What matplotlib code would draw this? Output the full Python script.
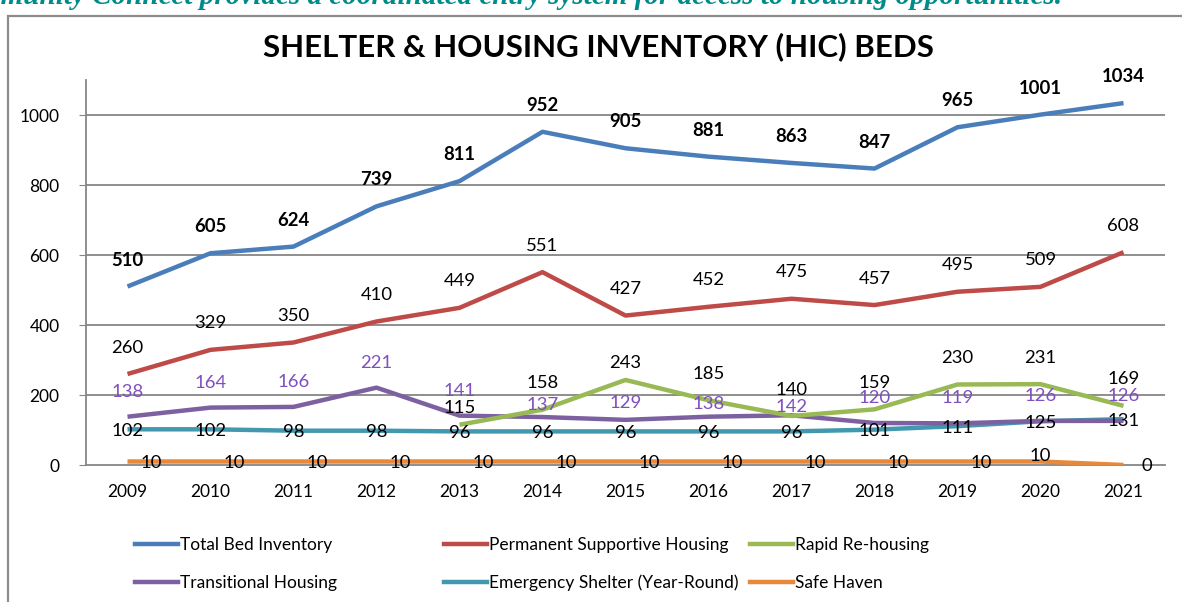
import matplotlib
matplotlib.use("Agg")
import matplotlib.pyplot as plt
from matplotlib.patches import Rectangle
from matplotlib.lines import Line2D

plt.rcParams['font.family'] = ['Lato', 'DejaVu Sans']

years = [2009, 2010, 2011, 2012, 2013, 2014, 2015, 2016, 2017, 2018, 2019, 2020, 2021]
total_beds = [510, 605, 624, 739, 811, 952, 905, 881, 863, 847, 965, 1001, 1034]
permanent_supportive = [260, 329, 350, 410, 449, 551, 427, 452, 475, 457, 495, 509, 608]
rapid_rehousing_years = [2013, 2014, 2015, 2016, 2017, 2018, 2019, 2020, 2021]
rapid_rehousing = [115, 158, 243, 185, 140, 159, 230, 231, 169]
transitional = [138, 164, 166, 221, 141, 137, 129, 138, 142, 120, 119, 126, 126]
emergency_shelter = [102, 102, 98, 98, 96, 96, 96, 96, 96, 101, 111, 125, 131]
safe_haven = [10, 10, 10, 10, 10, 10, 10, 10, 10, 10, 10, 10, 0]
y_ticks = [0, 200, 400, 600, 800, 1000]

title = "SHELTER & HOUSING INVENTORY (HIC) BEDS"
header = "Community Connect provides a coordinated entry system for access to housing opportunities."

C_TOTAL = "#4A7EBB"
C_PSH = "#BE4B48"
C_RRH = "#98B954"
C_TH = "#7D60A0"
C_ES = "#4198AF"
C_SH = "#E8883A"
C_THLAB = "#7F4FC0"

# label offsets (points) where the reference nudged labels
th_dy = {2014: 9, 2015: 12, 2016: 9, 2017: 6}
rrh_dy = {2013: 12, 2015: 12}
sh_off = {2020: (0, 4)}

W, H = 1182, 602
fig = plt.figure(figsize=(W / 100, H / 100), dpi=100)

# header text (clipped by top edge)
fig.text(1062 / W, 1 - 4 / H, header, ha='right', va='baseline', fontsize=21,
         fontweight='bold', fontstyle='italic', color='#008B8B', family='Liberation Serif')

# chart border
fig.add_artist(Rectangle((8 / W, -0.1), 1.2, 1 - 16 / H + 0.1, transform=fig.transFigure,
                         fill=False, edgecolor='#8C8C8C', linewidth=1.6))

ax = fig.add_axes([86 / W, 1 - 465 / H, (1165 - 86) / W, (465 - 80) / H])
x = list(range(len(years)))
idx = {y: i for i, y in enumerate(years)}
xr = [idx[y] for y in rapid_rehousing_years]

lw = 3.2
ax.plot(x, safe_haven, color=C_SH, lw=lw, solid_capstyle='butt', zorder=3)
ax.plot(x, emergency_shelter, color=C_ES, lw=lw, solid_capstyle='butt', zorder=3)
ax.plot(x, transitional, color=C_TH, lw=lw, solid_capstyle='butt', zorder=3)
ax.plot(xr, rapid_rehousing, color=C_RRH, lw=lw, solid_capstyle='butt', zorder=3)
ax.plot(x, permanent_supportive, color=C_PSH, lw=lw, solid_capstyle='butt', zorder=3)
ax.plot(x, total_beds, color=C_TOTAL, lw=lw, solid_capstyle='butt', zorder=3)

fs = 13.3
def labels(yrs, vals, dx, dy, color='black', weight='normal', over=None):
    for yr, v in zip(yrs, vals):
        ox, oy = dx, dy
        if over and yr in over:
            o = over[yr]
            if isinstance(o, tuple):
                ox, oy = o
            else:
                oy = o
        ax.annotate(str(v), (idx[yr], v), xytext=(ox, oy), textcoords='offset points',
                    ha='center', va='center', fontsize=fs, color=color, fontweight=weight, zorder=5)

labels(years, total_beds, 0, 19, weight='bold')
labels(years, permanent_supportive, 0, 19)
labels(rapid_rehousing_years, rapid_rehousing, 0, 19, over=rrh_dy)
labels(years, transitional, 0, 18, color=C_THLAB, over=th_dy)
labels(years, emergency_shelter, 0, -1)
labels(years, safe_haven, 17, -1, over=sh_off)

ax.set_xlim(-0.5, len(years) - 0.5)
ax.set_ylim(0, 1100)
ax.set_yticks(y_ticks)
ax.set_yticklabels([str(t) for t in y_ticks], fontsize=12.5)
ax.set_xticks(x)
ax.set_xticklabels([str(y) for y in years], fontsize=12.5)
ax.tick_params(axis='x', length=0, pad=14)
ax.tick_params(axis='y', length=5, color='#868686', pad=14)
for yv in y_ticks[1:]:
    ax.axhline(yv, color='#868686', lw=1.3, zorder=1)
for s in ['top', 'right']:
    ax.spines[s].set_visible(False)
for s in ['left', 'bottom']:
    ax.spines[s].set_color('#868686')
    ax.spines[s].set_linewidth(1.3)

fig.text(598 / W, 1 - 47 / H, title, ha='center', va='center', fontsize=22.5, fontweight='bold')

def leg(handles, x0):
    lg = fig.legend(handles=handles, loc='upper left', bbox_to_anchor=(x0 / W, 1 - 537 / H),
                    frameon=False, fontsize=12.5, handlelength=2.5, handletextpad=0.1,
                    labelspacing=1.25, borderaxespad=0, borderpad=0)
    return lg

h = lambda c, l: Line2D([], [], color=c, lw=3.2, label=l)
leg([h(C_TOTAL, 'Total Bed Inventory'), h(C_TH, 'Transitional Housing')], 135)
leg([h(C_PSH, 'Permanent Supportive Housing'), h(C_ES, 'Emergency Shelter (Year-Round)')], 444)
leg([h(C_RRH, 'Rapid Re-housing'), h(C_SH, 'Safe Haven')], 750)

fig.savefig('out.png', dpi=100)
